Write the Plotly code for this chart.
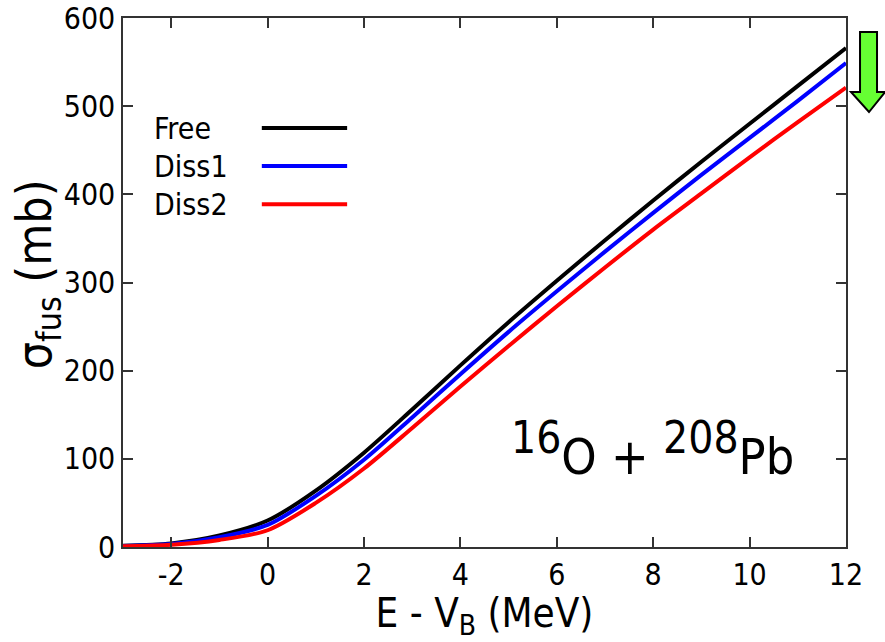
import plotly.graph_objects as go

# Fusion cross sections, 16O + 208Pb
energy = [-3, -2, -1, 0, 1, 2, 3, 4, 5, 6, 7, 8, 9, 10, 11, 12]  # E - V_B (MeV)
sigma_free = [1.5, 4, 13, 30, 64, 107, 156, 206, 255, 302, 348, 393, 437, 480, 523, 566]
sigma_diss1 = [1.2, 3.3, 11, 25, 58, 99, 147, 196, 244, 290, 335, 379, 422, 464, 506, 549]
sigma_diss2 = [0.8, 2.5, 8, 19, 50, 89, 135, 182, 228, 273, 317, 360, 401, 442, 482, 521]

series = [("Free", sigma_free, "#000000"),
          ("Diss1", sigma_diss1, "#0000ff"),
          ("Diss2", sigma_diss2, "#ff0000")]

x_ticks = [-2, 0, 2, 4, 6, 8, 10, 12]
y_ticks = [0, 100, 200, 300, 400, 500, 600]

FONT = "DejaVu Sans Condensed, Liberation Sans, sans-serif"

fig = go.Figure()
for name, ys, color in series:
    fig.add_trace(go.Scatter(x=energy, y=ys, mode="lines", name=name,
                             line=dict(color=color, width=4, shape="spline", smoothing=0.8),
                             showlegend=False))

# gnuplot-style key: label on the left, line sample on the right
key_y = [0.792, 0.720, 0.648]
shapes = []
annotations = []
for (name, _, color), ky in zip(series, key_y):
    annotations.append(dict(x=0.040, y=ky, xref="paper", yref="paper", text=name,
                            showarrow=False, xanchor="left", yanchor="middle",
                            font=dict(family=FONT, size=30, color="black")))
    shapes.append(dict(type="line", xref="paper", yref="paper", x0=0.192, x1=0.310,
                       y0=ky, y1=ky, line=dict(color=color, width=4)))

# reaction label
annotations.append(dict(x=0.534, y=0.185, xref="paper", yref="paper",
                        text="<sup><span style='font-size:44px'>16</span></sup>O + "
                             "<sup><span style='font-size:44px'>208</span></sup>Pb",
                        showarrow=False, xanchor="left", yanchor="middle",
                        font=dict(family=FONT, size=50, color="black")))

# y-axis title
annotations.append(dict(x=-0.118, y=0.515, xref="paper", yref="paper",
                        text="σ<sub>fus</sub> (mb)", textangle=-90,
                        showarrow=False, xanchor="center", yanchor="middle",
                        font=dict(family=FONT, size=48, color="black")))

# green downward arrow beside the plot
shapes.append(dict(type="path", xref="paper", yref="paper",
                   path="M 1.0194,0.9735 L 1.0429,0.9735 L 1.0429,0.8601 L 1.054,0.8601 "
                        "L 1.0318,0.8223 L 1.0069,0.8601 L 1.0194,0.8601 Z",
                   fillcolor="#66ff33", line=dict(color="black", width=2)))

axis_common = dict(showline=True, linecolor="#333333", linewidth=1.5, mirror="ticks",
                   ticks="inside", ticklen=10, tickwidth=1.5, tickcolor="#333333",
                   showgrid=False, zeroline=False, automargin=False,
                   tickfont=dict(family=FONT, size=30, color="black"))

fig.update_layout(
    width=885, height=642,
    margin=dict(l=123, r=39, t=18, b=95),
    paper_bgcolor="white", plot_bgcolor="white",
    xaxis=dict(range=[-3, 12], tickvals=x_ticks, ticktext=[str(v) for v in x_ticks],
               title=dict(text="E - V<sub>B</sub> (MeV)", standoff=10,
                          font=dict(family=FONT, size=40, color="black")),
               **axis_common),
    yaxis=dict(range=[0, 600], tickvals=y_ticks, ticktext=[str(v) for v in y_ticks],
               **axis_common),
    shapes=shapes,
    annotations=annotations,
)

fig.write_html("out.html")
